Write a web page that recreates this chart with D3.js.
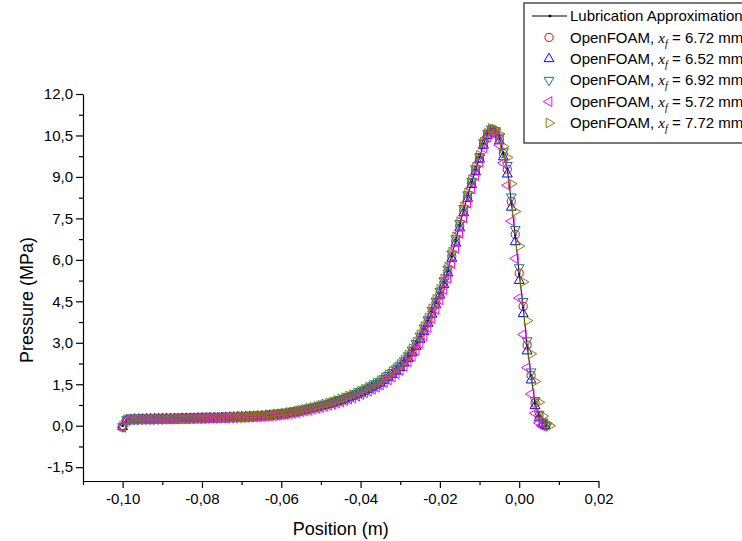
<!DOCTYPE html>
<html>
<head>
<meta charset="utf-8">
<script src="https://cdn.jsdelivr.net/npm/d3@7"></script>
<style>
  body { margin: 0; background: #fff; }
  text { font-family: "Liberation Sans", Arial, sans-serif; }
</style>
</head>
<body>
<div id="plot"></div>
<script>
// sample positions (m), shared by all curves
const position = [
  -0.100,-0.099,-0.098,-0.097,-0.096,-0.095,-0.094,-0.093,-0.092,-0.091,
  -0.090,-0.089,-0.088,-0.087,-0.086,-0.085,-0.084,-0.083,-0.082,-0.081,
  -0.080,-0.079,-0.078,-0.077,-0.076,-0.075,-0.074,-0.073,-0.072,-0.071,
  -0.070,-0.069,-0.068,-0.067,-0.066,-0.065,-0.064,-0.063,-0.062,-0.061,
  -0.060,-0.059,-0.058,-0.057,-0.056,-0.055,-0.054,-0.053,-0.052,-0.051,
  -0.050,-0.049,-0.048,-0.047,-0.046,-0.045,-0.044,-0.043,-0.042,-0.041,
  -0.040,-0.039,-0.038,-0.037,-0.036,-0.035,-0.034,-0.033,-0.032,-0.031,
  -0.030,-0.029,-0.028,-0.027,-0.026,-0.025,-0.024,-0.023,-0.022,-0.021,
  -0.020,-0.019,-0.018,-0.017,-0.016,-0.015,-0.014,-0.013,-0.012,-0.011,
  -0.010,-0.009,-0.008,-0.007,-0.006,-0.005,-0.004,-0.003,-0.002,-0.001,
  0.000,0.001,0.002,0.003,0.004,0.005,0.006,0.007
];

// pressure (MPa)
const pLubrication = [
  0.00,0.21,0.23,0.23,0.24,0.24,0.24,0.24,0.25,0.25,
  0.25,0.25,0.25,0.26,0.26,0.26,0.26,0.27,0.27,0.27,
  0.27,0.28,0.28,0.28,0.29,0.29,0.30,0.30,0.31,0.31,
  0.32,0.32,0.33,0.34,0.34,0.35,0.36,0.37,0.39,0.40,
  0.42,0.44,0.46,0.49,0.52,0.55,0.58,0.61,0.64,0.68,
  0.72,0.76,0.80,0.84,0.88,0.93,0.98,1.04,1.09,1.15,
  1.22,1.28,1.35,1.42,1.50,1.58,1.68,1.79,1.90,2.02,
  2.15,2.31,2.49,2.70,2.93,3.20,3.48,3.78,4.12,4.45,
  4.80,5.18,5.60,6.15,6.70,7.25,7.80,8.30,8.80,9.25,
  9.70,10.20,10.55,10.72,10.65,10.40,9.85,9.30,8.10,6.90,
  5.50,4.30,2.90,1.80,0.80,0.35,0.10
];
const pOF672 = [
  -0.05,0.20,0.23,0.23,0.23,0.24,0.24,0.24,0.24,0.25,
  0.25,0.25,0.25,0.25,0.26,0.26,0.26,0.26,0.27,0.27,
  0.27,0.27,0.28,0.28,0.29,0.29,0.29,0.30,0.30,0.31,
  0.31,0.32,0.33,0.33,0.34,0.35,0.36,0.37,0.38,0.40,
  0.41,0.43,0.46,0.48,0.51,0.54,0.57,0.60,0.64,0.67,
  0.71,0.75,0.79,0.83,0.88,0.92,0.97,1.03,1.08,1.14,
  1.21,1.27,1.34,1.41,1.49,1.57,1.67,1.78,1.89,2.01,
  2.14,2.30,2.48,2.68,2.92,3.18,3.46,3.77,4.10,4.44,
  4.79,5.17,5.58,6.12,6.68,7.23,7.78,8.28,8.78,9.23,
  9.68,10.18,10.52,10.70,10.64,10.38,9.84,9.28,8.12,6.92,
  5.52,4.32,2.92,1.82,0.82,0.36,0.10
];
const pOF652 = [
  -0.04,0.20,0.22,0.23,0.23,0.23,0.24,0.24,0.24,0.24,
  0.25,0.25,0.25,0.25,0.25,0.26,0.26,0.26,0.26,0.27,
  0.27,0.27,0.28,0.28,0.28,0.29,0.29,0.30,0.30,0.31,
  0.31,0.32,0.32,0.33,0.34,0.34,0.35,0.36,0.38,0.39,
  0.41,0.42,0.45,0.47,0.50,0.53,0.56,0.59,0.62,0.66,
  0.70,0.73,0.77,0.81,0.86,0.90,0.95,1.01,1.06,1.12,
  1.18,1.25,1.31,1.38,1.46,1.54,1.64,1.74,1.85,1.97,
  2.10,2.26,2.43,2.63,2.86,3.12,3.40,3.70,4.03,4.37,
  4.72,5.10,5.52,6.05,6.60,7.15,7.70,8.22,8.72,9.18,
  9.64,10.14,10.50,10.68,10.58,10.30,9.72,9.10,7.90,6.65,
  5.25,4.05,2.70,1.65,0.72,0.28,0.06
];
const pOF692 = [
  -0.03,0.22,0.23,0.24,0.24,0.24,0.25,0.25,0.25,0.25,
  0.25,0.26,0.26,0.26,0.26,0.27,0.27,0.27,0.27,0.28,
  0.28,0.28,0.29,0.29,0.29,0.30,0.30,0.31,0.31,0.32,
  0.32,0.33,0.34,0.34,0.35,0.36,0.37,0.38,0.40,0.41,
  0.43,0.45,0.47,0.50,0.53,0.56,0.59,0.62,0.66,0.69,
  0.73,0.77,0.81,0.86,0.90,0.95,1.00,1.06,1.11,1.17,
  1.24,1.30,1.37,1.45,1.53,1.61,1.71,1.82,1.93,2.06,
  2.19,2.35,2.53,2.74,2.98,3.25,3.54,3.84,4.18,4.51,
  4.87,5.25,5.67,6.22,6.77,7.32,7.86,8.36,8.85,9.30,
  9.74,10.24,10.58,10.74,10.68,10.45,9.92,9.42,8.28,7.10,
  5.72,4.50,3.08,1.95,0.92,0.42,0.14
];
const pOF572 = [
  -0.06,0.19,0.22,0.22,0.23,0.23,0.23,0.23,0.24,0.24,
  0.24,0.24,0.24,0.25,0.25,0.25,0.25,0.26,0.26,0.26,
  0.26,0.27,0.27,0.27,0.28,0.28,0.28,0.29,0.29,0.30,
  0.30,0.30,0.31,0.32,0.32,0.33,0.34,0.35,0.36,0.37,
  0.39,0.41,0.43,0.45,0.48,0.51,0.53,0.56,0.60,0.63,
  0.66,0.70,0.74,0.78,0.82,0.86,0.91,0.96,1.01,1.07,
  1.13,1.19,1.25,1.32,1.39,1.47,1.56,1.66,1.76,1.88,
  2.00,2.15,2.32,2.51,2.73,2.98,3.25,3.55,3.88,4.21,
  4.56,4.93,5.34,5.86,6.41,6.96,7.52,8.05,8.57,9.05,
  9.53,10.05,10.44,10.66,10.52,10.15,9.50,8.70,7.40,6.05,
  4.62,3.30,2.10,1.15,0.45,0.10
];
const pOF772 = [
  -0.02,0.22,0.24,0.24,0.24,0.25,0.25,0.25,0.25,0.26,
  0.26,0.26,0.26,0.26,0.27,0.27,0.27,0.27,0.28,0.28,
  0.28,0.29,0.29,0.29,0.30,0.30,0.31,0.31,0.32,0.32,
  0.33,0.33,0.34,0.35,0.35,0.36,0.37,0.39,0.40,0.42,
  0.43,0.45,0.48,0.50,0.53,0.56,0.59,0.63,0.66,0.70,
  0.74,0.78,0.82,0.86,0.91,0.96,1.01,1.07,1.12,1.18,
  1.25,1.32,1.39,1.46,1.54,1.63,1.73,1.84,1.96,2.08,
  2.22,2.38,2.56,2.78,3.02,3.29,3.58,3.89,4.23,4.57,
  4.93,5.31,5.74,6.28,6.83,7.38,7.92,8.42,8.90,9.35,
  9.78,10.26,10.58,10.75,10.72,10.55,10.10,9.70,8.75,7.75,
  6.50,5.20,3.80,2.60,1.60,0.85,0.35,0.08
];

// front position of each curve (m), where pressure returns to zero
const frontLubrication = 0.00672;
const ofFronts = [0.00672, 0.00652, 0.00692, 0.00572, 0.00772];
const ofLabels = ["6.72", "6.52", "6.92", "5.72", "7.72"];
const ofPressures = [pOF672, pOF652, pOF692, pOF572, pOF772];
const ofColors = ["#ff0000", "#0000ff", "#008080", "#ff00ff", "#808000"];
const ofShapes = ["circle", "up", "down", "left", "right"];

const xTicks = [-0.10, -0.08, -0.06, -0.04, -0.02, 0.00, 0.02];
const xMinor = [-0.11, -0.09, -0.07, -0.05, -0.03, -0.01, 0.01];
const yTicks = [-1.5, 0, 1.5, 3, 4.5, 6, 7.5, 9, 10.5, 12];
const yMinor = [-0.75, 0.75, 2.25, 3.75, 5.25, 6.75, 8.25, 9.75, 11.25];

const width = 742, height = 541;
const plot = {left: 83, right: 598.5, top: 94, bottom: 481};

const svg = d3.select("#plot").append("svg")
  .attr("width", width)
  .attr("height", height);

const x = d3.scaleLinear().domain([-0.11, 0.02]).range([plot.left, plot.right]);
const y = d3.scaleLinear().domain([-2, 12]).range([plot.bottom, plot.top]);

const loc = d3.formatLocale({decimal: ",", thousands: ".", grouping: [3], currency: ["", ""], minus: "-"});

function toPoints(pArr, front) {
  const pts = pArr.map((p, i) => ({x: position[i], p: p}));
  pts.push({x: front, p: 0});
  return pts;
}

// axes
const fontTick = "15px";

svg.append("g")
  .attr("transform", `translate(0,${plot.bottom})`)
  .call(d3.axisBottom(x).tickValues(xMinor).tickSize(4).tickFormat(""))
  .call(g => g.select(".domain").remove());
svg.append("g")
  .attr("transform", `translate(0,${plot.bottom})`)
  .call(d3.axisBottom(x).tickValues(xTicks).tickSize(7).tickSizeOuter(0).tickPadding(5).tickFormat(loc.format(".2f")))
  .call(g => g.selectAll("text").style("font-size", fontTick).attr("fill", "#000"));

svg.append("g")
  .attr("transform", `translate(${plot.left},0)`)
  .call(d3.axisLeft(y).tickValues(yMinor).tickSize(4).tickFormat(""))
  .call(g => g.select(".domain").remove());
svg.append("g")
  .attr("transform", `translate(${plot.left},0)`)
  .call(d3.axisLeft(y).tickValues(yTicks).tickSize(7).tickSizeOuter(0).tickPadding(3).tickFormat(loc.format(".1f")))
  .call(g => g.selectAll("text").style("font-size", fontTick).attr("fill", "#000"));

svg.selectAll(".domain, .tick line").attr("stroke", "#000").attr("stroke-width", 1.2);
svg.selectAll("text").attr("font-family", "'Liberation Sans', Arial, sans-serif");

svg.append("text")
  .attr("x", (plot.left + plot.right) / 2)
  .attr("y", 535)
  .attr("text-anchor", "middle")
  .style("font-size", "18px")
  .text("Position (m)");

svg.append("text")
  .attr("transform", `translate(33,300) rotate(-90)`)
  .attr("text-anchor", "middle")
  .style("font-size", "18px")
  .text("Pressure (MPa)");

// symbols
function symbolPath(shape) {
  if (shape === "circle") return d3.symbol(d3.symbolCircle, 52)();
  return d3.symbol(d3.symbolTriangle, 42)();
}
const rot = {circle: 0, up: 0, down: 180, left: -90, right: 90};

// lubrication line
const lubPts = toPoints(pLubrication, frontLubrication);
const line = d3.line().x(d => x(d.x)).y(d => y(d.p));
svg.append("path")
  .datum(lubPts)
  .attr("fill", "none")
  .attr("stroke", "#000")
  .attr("stroke-width", 1)
  .attr("d", line);
svg.append("g").selectAll("rect")
  .data(lubPts)
  .join("rect")
  .attr("x", d => x(d.x) - 1.2)
  .attr("y", d => y(d.p) - 1.2)
  .attr("width", 2.4)
  .attr("height", 2.4)
  .attr("fill", "#000");

// OpenFOAM series
ofPressures.forEach((pArr, k) => {
  const pts = toPoints(pArr, ofFronts[k]);
  svg.append("g").selectAll("path")
    .data(pts)
    .join("path")
    .attr("d", symbolPath(ofShapes[k]))
    .attr("transform", d => `translate(${x(d.x)},${y(d.p)}) rotate(${rot[ofShapes[k]]})`)
    .attr("fill", "none")
    .attr("stroke", ofColors[k])
    .attr("stroke-width", 1);
});

// legend
const legend = svg.append("g");
legend.append("rect")
  .attr("x", 524).attr("y", 3)
  .attr("width", 240).attr("height", 140)
  .attr("fill", "#fff")
  .attr("stroke", "#333")
  .attr("stroke-width", 1.3);

const rowY = i => 16 + i * 21.4;
const fontLegend = "15px";

legend.append("line")
  .attr("x1", 532).attr("x2", 567)
  .attr("y1", rowY(0)).attr("y2", rowY(0))
  .attr("stroke", "#000").attr("stroke-width", 1);
legend.append("rect")
  .attr("x", 548.8).attr("y", rowY(0) - 1.2)
  .attr("width", 2.4).attr("height", 2.4)
  .attr("fill", "#000");
legend.append("text")
  .attr("x", 570).attr("y", rowY(0))
  .attr("dy", "0.35em")
  .style("font-size", fontLegend)
  .text("Lubrication Approximation");

ofLabels.forEach((lab, k) => {
  const yy = rowY(k + 1);
  legend.append("path")
    .attr("d", symbolPath(ofShapes[k]))
    .attr("transform", `translate(549,${yy}) rotate(${rot[ofShapes[k]]})`)
    .attr("fill", "none")
    .attr("stroke", ofColors[k])
    .attr("stroke-width", 1);
  const t = legend.append("text")
    .attr("x", 570).attr("y", yy)
    .attr("dy", "0.35em")
    .style("font-size", fontLegend);
  t.append("tspan").text("OpenFOAM, ");
  t.append("tspan")
    .attr("font-family", "'Liberation Serif', 'Times New Roman', serif")
    .attr("font-style", "italic")
    .text("x");
  t.append("tspan")
    .attr("font-family", "'Liberation Serif', 'Times New Roman', serif")
    .attr("font-style", "italic")
    .attr("dy", "4")
    .style("font-size", "10px")
    .text("f");
  t.append("tspan")
    .attr("dy", "-4")
    .text(" = " + lab + " mm");
});
</script>
</body>
</html>
